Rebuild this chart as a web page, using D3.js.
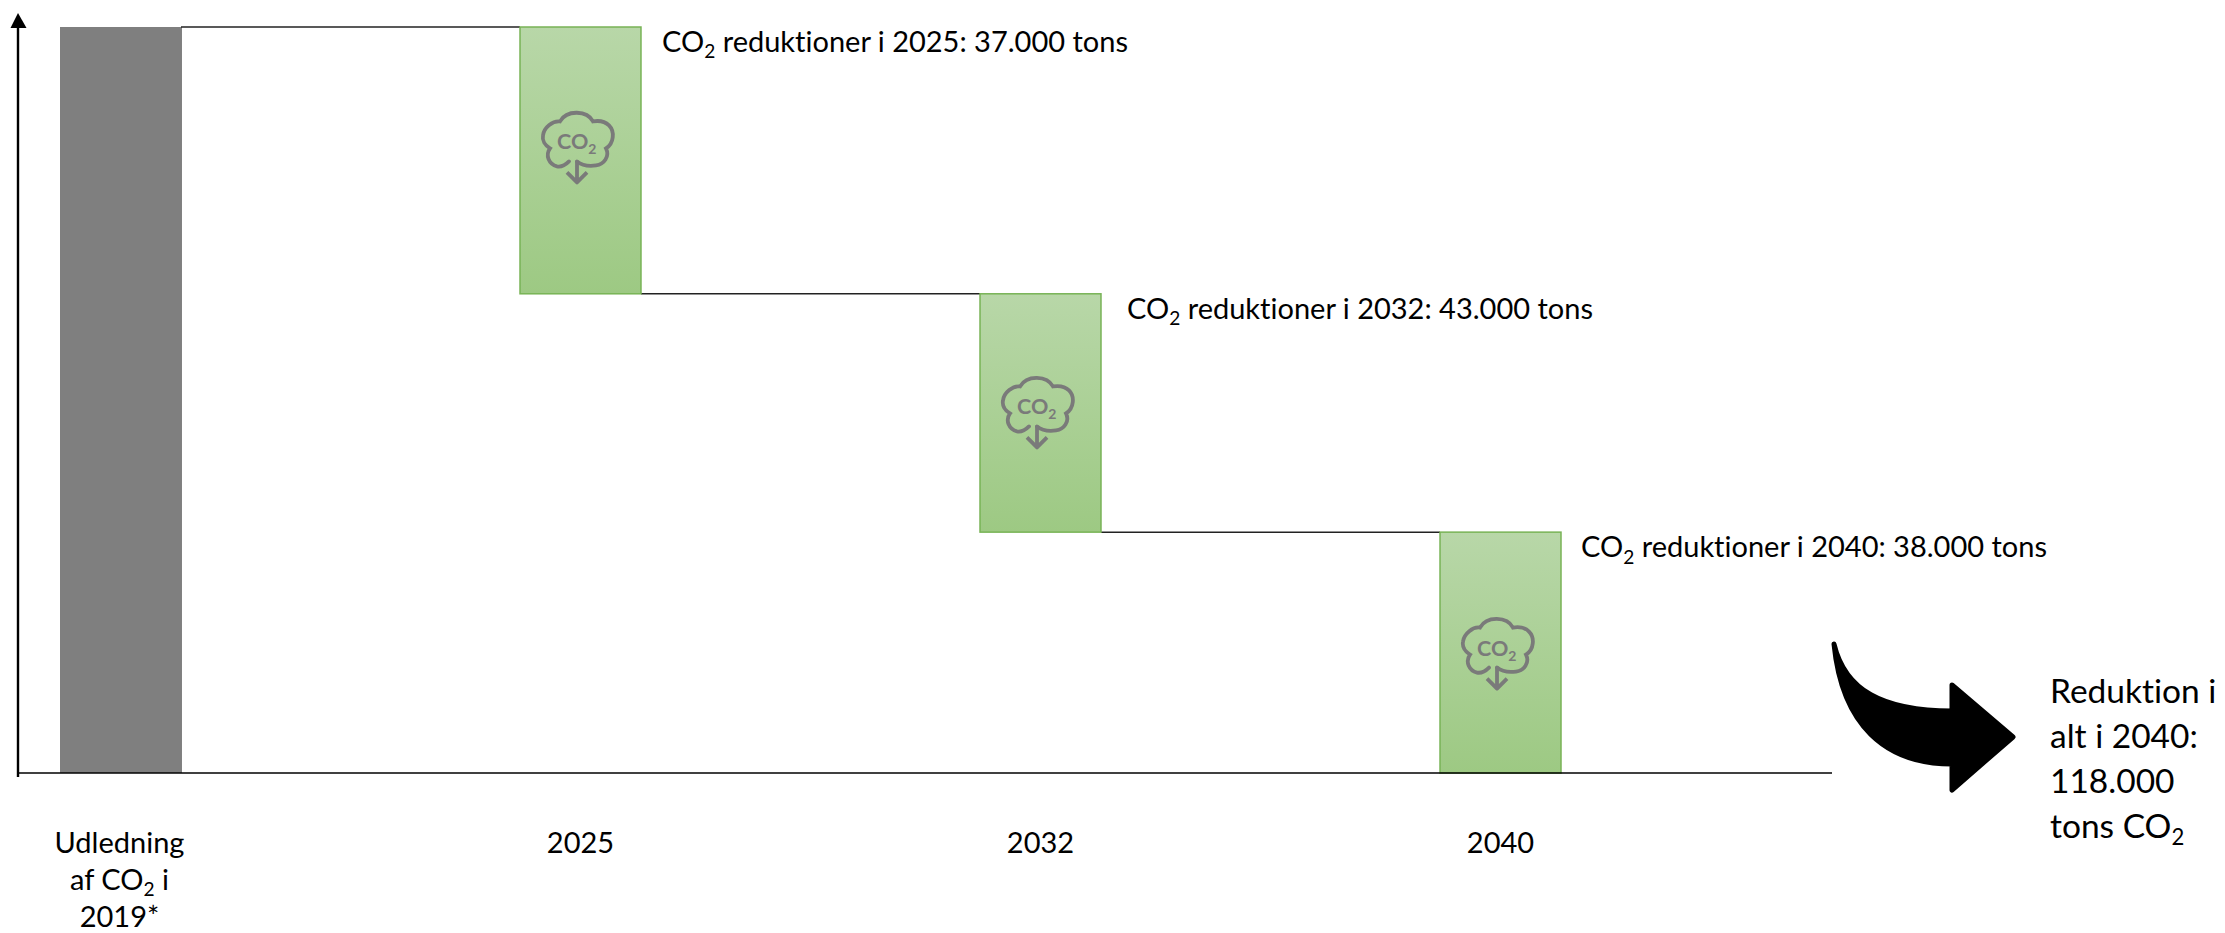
<!DOCTYPE html>
<html lang="da">
<head>
    <meta charset="UTF-8">
    <title>CO2 reduktioner</title>
    <script src="https://cdn.jsdelivr.net/npm/d3@7"></script>
    <style>
        html, body { margin: 0; padding: 0; background: #fff; }
        svg { display: block; }
        text { font-family: Lato, "Open Sans", sans-serif; fill: #000; font-variant-ligatures: none; }
    </style>
</head>
<body>
    <svg id="mainsvg" width="2225" height="933"></svg>
    <script>
        const categories = ["2019", "2025", "2032", "2040"];
        const tickLines = [["Udledning", "af CO2 i", "2019*"], ["2025"], ["2032"], ["2040"]];
        // total height of the start column, thousand tons
        const startTotal = 118;
        // step heights as drawn in the picture, which is not to scale with the printed numbers
        const drawnDrops = [42.2, 37.7, 38.1];
        const reductionYears = ["2025", "2032", "2040"];
        const reductionTons = ["37.000", "43.000", "38.000"];
        const summaryLines = ["Reduktion i", "alt i 2040:", "118.000", "tons CO2"];

        const svg = d3.select("#mainsvg");
        const baseY = 773, topY = 27;
        const labelSize = 29;

        const xScale = d3.scaleBand().domain(categories).range([60, 1561]).paddingInner(0.737).paddingOuter(0);
        const yScale = d3.scaleLinear().domain([0, startTotal]).range([baseY, topY]);

        // running level after each step
        const levels = [startTotal];
        drawnDrops.forEach(d => levels.push(levels[levels.length - 1] - d));

        // writes a string into a text node, with the 2 of CO2 as a subscript
        function co2Text(sel, str, size) {
            const parts = str.split("CO2");
            parts.forEach((p, i) => {
                if (i > 0) {
                    sel.append("tspan").text("CO");
                    sel.append("tspan").text("2").attr("font-size", size * 0.66).attr("dy", size * 0.22);
                }
                const t = sel.append("tspan").text(p);
                if (i > 0) t.attr("dy", -size * 0.22);
            });
        }

        const defs = svg.append("defs");
        const grad = defs.append("linearGradient").attr("id", "greenFill")
            .attr("x1", 0).attr("y1", 0).attr("x2", 0).attr("y2", 1);
        grad.append("stop").attr("offset", "0%").attr("stop-color", "#b8d7a8");
        grad.append("stop").attr("offset", "100%").attr("stop-color", "#9dc983");

        // start column
        svg.append("rect")
            .attr("x", xScale(categories[0]))
            .attr("y", yScale(startTotal))
            .attr("width", xScale.bandwidth() + 1)
            .attr("height", yScale(0) - yScale(startTotal))
            .attr("fill", "#7f7f7f");

        // connector lines
        drawnDrops.forEach((d, i) => {
            svg.append("line")
                .attr("x1", xScale(categories[i]) + xScale.bandwidth())
                .attr("x2", xScale(categories[i + 1]))
                .attr("y1", yScale(levels[i]))
                .attr("y2", yScale(levels[i]))
                .attr("stroke", "#222")
                .attr("stroke-width", 1.5);
        });

        // reduction columns
        drawnDrops.forEach((d, i) => {
            svg.append("rect")
                .attr("x", xScale(categories[i + 1]))
                .attr("y", yScale(levels[i]))
                .attr("width", xScale.bandwidth())
                .attr("height", yScale(levels[i + 1]) - yScale(levels[i]))
                .attr("fill", "url(#greenFill)")
                .attr("stroke", "#78b356")
                .attr("stroke-width", 1.5);
        });

        // cloud icon, origin at the tip of its down arrow
        const iconOffset = [-12.5, 0, 1.5];
        const cloudPath = "M0,-22 C5,-18 12,-17 19,-18 C27,-19 33,-27 29,-35 C37,-40 38,-52 32,-58 C28,-62 22,-63 16,-62 " +
            "C10,-73 -10,-74 -17,-62 C-24,-63 -33,-56 -34,-48 C-35,-43 -32,-38 -27,-35 C-32,-28 -28,-19 -20,-17 C-15,-16 -11,-19 -8,-22";
        drawnDrops.forEach((d, i) => {
            const cx = xScale(categories[i + 1]) + xScale.bandwidth() / 2 - 3.5;
            const cy = (yScale(levels[i]) + yScale(levels[i + 1])) / 2 + iconOffset[i] + 35.5;
            const icon = svg.append("g").attr("transform", `translate(${cx},${cy})`);
            icon.append("path").attr("d", cloudPath)
                .attr("fill", "none").attr("stroke", "#7a7a7a").attr("stroke-width", 3.8).attr("stroke-linecap", "round");
            icon.append("path").attr("d", "M0,-23 L0,-1 M-10,-11 L0,-1 L10,-11")
                .attr("fill", "none").attr("stroke", "#7a7a7a").attr("stroke-width", 3.8).attr("stroke-linejoin", "round");
            const co = icon.append("text").attr("x", -20).attr("y", -34).attr("font-size", 21.5).attr("font-weight", 700)
                .style("fill", "#7a7a7a");
            co.append("tspan").text("CO");
            co.append("tspan").text("2").attr("font-size", 14).attr("dy", 5);
        });

        // y axis with arrow head
        svg.append("line")
            .attr("x1", 18).attr("x2", 18)
            .attr("y1", yScale(0) + 4).attr("y2", yScale(startTotal))
            .attr("stroke", "#000").attr("stroke-width", 2.4);
        svg.append("path").attr("d", "M18,13 L26.5,28 L10.5,28 Z").attr("fill", "#000");

        // baseline
        svg.append("line")
            .attr("x1", 18).attr("x2", 1832)
            .attr("y1", yScale(0)).attr("y2", yScale(0))
            .attr("stroke", "#000").attr("stroke-width", 1.5);

        // category labels through the band axis, then split over lines
        const xAxis = d3.axisBottom(xScale).tickSize(0).tickPadding(0);
        const xg = svg.append("g").attr("transform", `translate(0,${baseY})`).call(xAxis);
        xg.select(".domain").remove();
        xg.selectAll(".tick text").each(function (d, i) {
            const t = d3.select(this);
            t.text(null).attr("y", 0).attr("dy", null).attr("font-size", labelSize);
            tickLines[i].forEach((line, k) => {
                const row = t.append("tspan").attr("x", i === 0 ? -1 : 0).attr("y", 80 + k * 37);
                co2Text(row, line, labelSize);
            });
        });

        // reduction labels beside the columns
        const labelGap = [21, 26, 20];
        reductionYears.forEach((year, i) => {
            const label = svg.append("text")
                .attr("x", xScale(categories[i + 1]) + xScale.bandwidth() + labelGap[i])
                .attr("y", yScale(levels[i]) + 25)
                .attr("font-size", labelSize);
            co2Text(label, `CO2 reduktioner i ${year}: ${reductionTons[i]} tons`, labelSize);
        });

        // curved arrow to the summary
        svg.append("path")
            .attr("d", "M1834,644 C1845,690 1882,711 1952,711 L1952,685 L2013,737 L1952,790 L1952,764 C1885,764 1842,725 1834,644 Z")
            .attr("fill", "#000").attr("stroke", "#000").attr("stroke-width", 5).attr("stroke-linejoin", "round");

        // summary text
        summaryLines.forEach((line, i) => {
            const t = svg.append("text").attr("x", 2050).attr("y", 703 + i * 45).attr("font-size", 33.5);
            co2Text(t, line, 33.5);
        });
    </script>
</body>
</html>
